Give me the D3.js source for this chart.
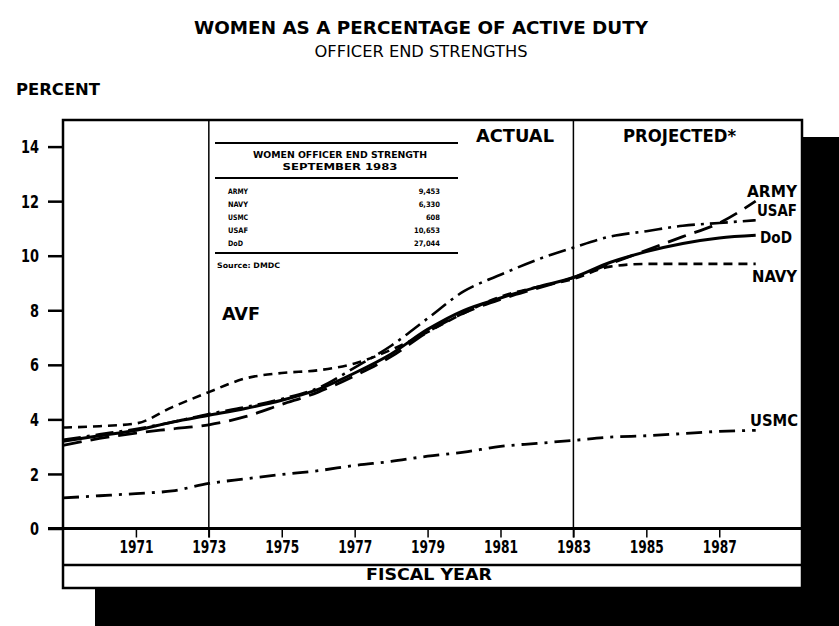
<!DOCTYPE html>
<html>
<head>
<meta charset="utf-8">
<script src="https://cdn.jsdelivr.net/npm/d3@7"></script>
<style>
  html, body { margin: 0; padding: 0; background: #fff; }
  svg { display: block; }
  text { font-family: "DejaVu Sans Condensed", "Liberation Sans Narrow", "Liberation Sans", sans-serif; fill: #000; }
</style>
</head>
<body>
<svg id="chart" width="839" height="626"></svg>
<script>
// ---------- DATA ----------
const years = [1969,1970,1971,1972,1973,1974,1975,1976,1977,1978,1979,1980,1981,1982,1983,1984,1985,1986,1987,1988];
const dod  = [3.2, 3.4, 3.6, 3.9, 4.15,4.4, 4.7, 5.1, 5.7, 6.4, 7.3, 8.0, 8.45,8.85,9.2, 9.75,10.15,10.45,10.65,10.75];
const army = [3.05,3.3, 3.5, 3.65,3.8, 4.1, 4.55,5.0, 5.6, 6.3, 7.2, 7.9, 8.4, 8.8, 9.2, 9.7, 10.2, 10.7, 11.2, 12.0];
const usaf = [3.25,3.45,3.65,3.9, 4.2, 4.45,4.75,5.15,5.9, 6.7, 7.7, 8.7, 9.3, 9.85,10.3,10.7,10.9, 11.1, 11.2, 11.3];
const navy = [3.7, 3.75,3.85,4.45,5.0, 5.5, 5.7, 5.8, 6.05,6.55,7.2, 7.9, 8.5, 8.85,9.15,9.6, 9.7,  9.7,  9.7,  9.7];
const usmc = [1.12,1.2, 1.28,1.38,1.65,1.82,1.98,2.12,2.31,2.46,2.65,2.8, 3.01,3.12,3.23,3.35,3.4,  3.48, 3.56, 3.6];
const yTicks = [0,2,4,6,8,10,12,14];
const xTicks = [1971,1973,1975,1977,1979,1981,1983,1985,1987];
const markers = [1973,1983];
const seriesNames = ["ARMY","USAF","DoD","NAVY","USMC"];
const tableRows = ["ARMY","NAVY","USMC","USAF","DoD"];
const tableValues = ["9,453","6,330","608","10,653","27,044"];

// ---------- LAYOUT ----------
const svg = d3.select("#chart");
const L = 63, R = 802, T = 120, B = 588;
const x = d3.scaleLinear().domain([1969, 1989.27]).range([L, R]);
const y = d3.scaleLinear().domain([0, 14]).range([528.5, 146.6]);

function txt(xp, yp, s, size, opts = {}) {
  const t = svg.append("text").attr("x", xp).attr("y", yp).attr("font-size", size).text(s);
  if (opts.bold !== false) t.attr("font-weight", "bold");
  if (opts.anchor) t.attr("text-anchor", opts.anchor);
  if (opts.len) t.attr("textLength", opts.len).attr("lengthAdjust", "spacingAndGlyphs");
  return t;
}

// shadow
svg.append("rect").attr("x", 95).attr("y", 137).attr("width", 744).attr("height", 489).attr("fill", "#000");
// frame
svg.append("rect").attr("x", L).attr("y", T).attr("width", R - L).attr("height", B - T)
  .attr("fill", "#fff").attr("stroke", "#000").attr("stroke-width", 2.5);

// titles
txt(421, 34, "WOMEN AS A PERCENTAGE OF ACTIVE DUTY", 18, {anchor: "middle", len: 454});
txt(421, 57, "OFFICER END STRENGTHS", 16, {anchor: "middle", len: 213, bold: false});
txt(16, 95, "PERCENT", 16, {len: 84});

// y axis
const yAxis = d3.axisLeft(y).tickValues(yTicks).tickSize(15).tickPadding(9).tickFormat(d3.format("d"));
const gy = svg.append("g").attr("transform", `translate(${L},0)`).call(yAxis);
gy.select(".domain").remove();
gy.selectAll(".tick line").attr("stroke", "#000").attr("stroke-width", 2.5);
gy.selectAll(".tick text").attr("font-size", 17).attr("font-weight", "bold").attr("dy", "0.36em")
  .style("font-family", '"DejaVu Sans Condensed", sans-serif')
  .attr("textLength", d => d >= 10 ? 18 : 9).attr("lengthAdjust", "spacingAndGlyphs");

// x axis (ticks below zero line)
const xAxis = d3.axisBottom(x).tickValues(xTicks).tickSize(9).tickPadding(3).tickFormat(d3.format("d"));
const gx = svg.append("g").attr("transform", `translate(0,${y(0)})`).call(xAxis);
gx.select(".domain").remove();
gx.selectAll(".tick line").attr("stroke", "#000").attr("stroke-width", 1.5);
gx.selectAll(".tick text").attr("font-size", 17).attr("font-weight", "bold")
  .style("font-family", '"DejaVu Sans Condensed", sans-serif')
  .attr("textLength", 34).attr("lengthAdjust", "spacingAndGlyphs");

// zero line and lower rule
svg.append("line").attr("x1", 48).attr("x2", R).attr("y1", y(0)).attr("y2", y(0))
  .attr("stroke", "#000").attr("stroke-width", 3);
svg.append("line").attr("x1", L).attr("x2", R).attr("y1", 565).attr("y2", 565)
  .attr("stroke", "#000").attr("stroke-width", 2.5);
txt(429, 580, "FISCAL YEAR", 15, {anchor: "middle", len: 126});

// vertical markers
svg.selectAll("line.marker").data(markers).join("line").attr("class", "marker")
  .attr("x1", d => x(d)).attr("x2", d => x(d)).attr("y1", T).attr("y2", y(0) + 9)
  .attr("stroke", "#000").attr("stroke-width", 1.5);

txt(476, 142, "ACTUAL", 17, {len: 78});
txt(623, 142, "PROJECTED*", 17, {len: 113});
txt(222, 320, "AVF", 17, {len: 38});

// inset table
const tb = svg.append("g");
[143, 178, 253].forEach(yy => tb.append("line").attr("x1", 215).attr("x2", 458).attr("y1", yy).attr("y2", yy)
  .attr("stroke", "#000").attr("stroke-width", 2));
txt(340, 158, "WOMEN OFFICER END STRENGTH", 8, {anchor: "middle", len: 174});
txt(340, 170, "SEPTEMBER 1983", 8, {anchor: "middle", len: 115});
tableRows.forEach((r, i) => {
  txt(228, 193.5 + i * 13.1, r, 7.5, {len: r.length * 5});
  txt(440, 193.5 + i * 13.1, tableValues[i], 7.5, {anchor: "end"});
});
txt(217, 268, "Source: DMDC", 7.5, {len: 63});

// series lines
const series = [
  {name: "ARMY", vals: army, dash: "19,9", w: 2.8},
  {name: "USAF", vals: usaf, dash: "18,6,3,6", w: 2.6},
  {name: "DoD",  vals: dod,  dash: null, w: 3},
  {name: "NAVY", vals: navy, dash: "9,6", w: 2.6},
  {name: "USMC", vals: usmc, dash: "16,7,3,7", w: 2.8}
];
const line = d3.line().x(d => x(d[0])).y(d => y(d[1])).curve(d3.curveMonotoneX);
series.forEach(s => {
  svg.append("path").datum(years.map((yr, i) => [yr, s.vals[i]]))
    .attr("d", line).attr("fill", "none").attr("stroke", "#000")
    .attr("stroke-width", s.w).attr("stroke-dasharray", s.dash);
});

// end labels
const labelPos = {ARMY: [747, 197, 50], USAF: [757, 216, 40], DoD: [760, 243, 32], NAVY: [752, 282, 45], USMC: [750, 426, 48]};
seriesNames.forEach(n => {
  txt(labelPos[n][0], labelPos[n][1], n, 15, {len: labelPos[n][2]});
});
</script>
</body>
</html>
